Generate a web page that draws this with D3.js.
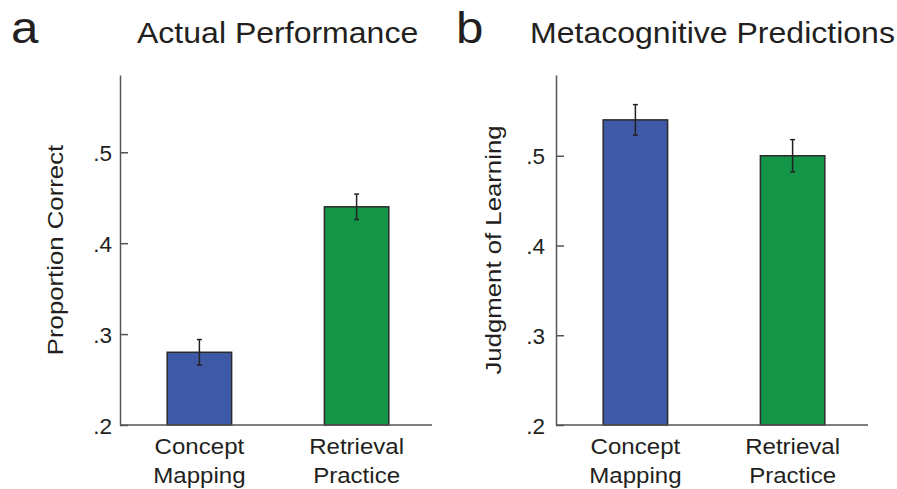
<!DOCTYPE html>
<html>
<head>
<meta charset="utf-8">
<script src="https://cdn.jsdelivr.net/npm/d3@7"></script>
<style>
  body { margin: 0; background: #fff; }
  svg text { font-family: "Liberation Sans", Arial, Helvetica, sans-serif; fill: #231f20; }
</style>
</head>
<body>
<div id="chart"></div>
<script>
// data
var categories = ["Concept Mapping", "Retrieval Practice"];
var actualMeans = [0.28, 0.44];
var actualErrors = [0.014, 0.014];
var jolMeans = [0.54, 0.50];
var jolErrors = [0.017, 0.018];
var tickValues = [0.2, 0.3, 0.4, 0.5];
var tickLabels = [".2", ".3", ".4", ".5"];
var barColors = ["#3e59a6", "#139447"];

var W = 897, H = 489;
var svg = d3.select("#chart").append("svg").attr("width", W).attr("height", H);

var stretch = 1.12; // the original type is a bit wider than Arial

function label(g, x, y, txt, size, rot, anchor) {
    return g.append("text")
        .attr("transform", "translate(" + x + "," + y + ")" + (rot ? " rotate(" + rot + ")" : "") + " scale(" + stretch + ",1)")
        .attr("text-anchor", anchor || "middle")
        .style("font-size", size + "px")
        .text(txt);
}

var panels = [
    { letter: "a", lx: 11, title: "Actual Performance", tx: 137, yLabel: "Proportion Correct", ylx: 63,
      x0: 120, x1: 436, top: 0.585, means: actualMeans, errs: actualErrors, tickPad: 8 },
    { letter: "b", lx: 456, title: "Metacognitive Predictions", tx: 530, yLabel: "Judgment of Learning", ylx: 501,
      x0: 556, x1: 872, top: 0.59, means: jolMeans, errs: jolErrors, tickPad: 11 }
];

var yBottom = 425, yTop = 75;

panels.forEach(function(p) {
    var g = svg.append("g");

    var x = d3.scaleBand().domain(categories).range([p.x0, p.x1]).paddingInner(0.59).paddingOuter(0.3);
    var y = d3.scaleLinear().domain([0.2, p.top]).range([yBottom, yTop]);

    // bars
    g.selectAll("rect.bar")
        .data(categories)
        .enter()
        .append("rect")
        .attr("class", "bar")
        .attr("x", d => x(d))
        .attr("width", x.bandwidth())
        .attr("y", (d, i) => y(p.means[i]))
        .attr("height", (d, i) => y(0.2) - y(p.means[i]))
        .style("fill", (d, i) => barColors[i])
        .style("stroke", "#2b2b2b")
        .style("stroke-width", 1.5);

    // error bars
    var eb = g.selectAll("g.err").data(categories).enter().append("g").attr("class", "err");
    eb.append("line")
        .attr("x1", d => x(d) + x.bandwidth() / 2)
        .attr("x2", d => x(d) + x.bandwidth() / 2)
        .attr("y1", (d, i) => y(p.means[i] - p.errs[i]))
        .attr("y2", (d, i) => y(p.means[i] + p.errs[i]));
    [-1, 1].forEach(function(s) {
        eb.append("line")
            .attr("x1", d => x(d) + x.bandwidth() / 2 - 2.5)
            .attr("x2", d => x(d) + x.bandwidth() / 2 + 2.5)
            .attr("y1", (d, i) => y(p.means[i] + s * p.errs[i]))
            .attr("y2", (d, i) => y(p.means[i] + s * p.errs[i]));
    });
    eb.selectAll("line").style("stroke", "#222").style("stroke-width", 1.5);

    // baseline
    g.append("line")
        .attr("x1", p.x0).attr("x2", p.x1 - 4)
        .attr("y1", y(0.2)).attr("y2", y(0.2))
        .style("stroke", "#555").style("stroke-width", 1.5);

    // y axis, ticks pointing inward
    var yAxis = d3.axisLeft(y)
        .tickValues(tickValues)
        .tickFormat((d, i) => tickLabels[i])
        .tickSizeInner(-8)
        .tickSizeOuter(0)
        .tickPadding(p.tickPad);
    var ya = g.append("g").attr("transform", "translate(" + p.x0 + ",0)").call(yAxis);
    ya.select(".domain").style("stroke", "#555").style("stroke-width", 1.5);
    ya.selectAll(".tick line").style("stroke", "#555").style("stroke-width", 1.5);
    ya.selectAll(".tick text")
        .attr("dy", "0.36em")
        .style("font-size", "22.5px")
        .style("font-family", "Liberation Sans, Arial, sans-serif")
        .style("fill", "#231f20");

    // category labels on two lines
    categories.forEach(function(c, i) {
        var cx = x(c) + x.bandwidth() / 2;
        var words = c.split(" ");
        label(g, cx, 454, words[0], 21.5);
        label(g, cx, 483, words[1], 21.5);
    });

    // axis title
    label(g, p.ylx, (yBottom + yTop) / 2, p.yLabel, 23, -90);

    // panel title and letter
    label(g, p.tx, 43, p.title, 28.6, 0, "start");
    label(g, p.lx, 43, p.letter, 44, 0, "start");
});
</script>
</body>
</html>
